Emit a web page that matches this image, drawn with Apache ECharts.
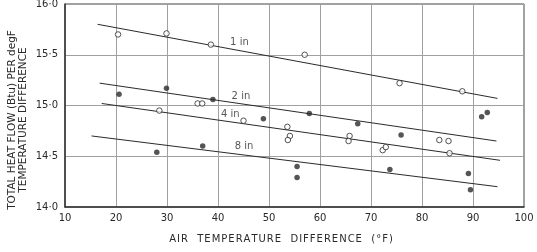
<!DOCTYPE html>
<html>
<head>
<meta charset="utf-8">
<script src="https://cdn.jsdelivr.net/npm/echarts@6/dist/echarts.min.js"></script>
<style>
  html, body { margin: 0; padding: 0; background: #fff; }
  #chart { width: 537px; height: 252px; }
</style>
</head>
<body>
<div id="chart"></div>
<script>
// values: [air temperature difference (°F), heat flow per degF]
const pts1in = [[20.4, 15.70], [29.9, 15.71], [38.6, 15.60], [57.0, 15.50], [75.6, 15.22], [87.9, 15.14]]
const pts2in = [[20.6, 15.11], [29.9, 15.17], [39.0, 15.06], [48.9, 14.87], [57.9, 14.92], [67.4, 14.82],
                [75.9, 14.71], [91.7, 14.89], [92.8, 14.93]]
const pts4in = [[28.5, 14.95], [36.0, 15.02], [36.9, 15.02], [45.0, 14.85], [53.6, 14.79], [54.1, 14.70],
                [53.7, 14.66], [65.8, 14.70], [65.6, 14.65], [72.3, 14.56], [72.9, 14.59],
                [83.4, 14.66], [85.2, 14.65], [85.4, 14.53]]
const pts8in = [[28.0, 14.54], [37.0, 14.60], [55.5, 14.40], [55.5, 14.29], [73.7, 14.37],
                [89.1, 14.33], [89.5, 14.17]]

// fitted straight lines (start, end)
const fit1in = [[16.4, 15.80], [94.8, 15.07]]
const fit2in = [[16.8, 15.22], [94.6, 14.65]]
const fit4in = [[17.2, 15.02], [95.3, 14.46]]
const fit8in = [[15.2, 14.70], [94.8, 14.20]]

const lineNames = ['1 in', '2 in', '4 in', '8 in']
const lineLabelPos = [[44.2, 15.62], [44.5, 15.09], [42.4, 14.91], [45.1, 14.60]]

const xTicks = { min: 10, max: 100, step: 10 }
const yTicks = { min: 14, max: 16, step: 0.5 }

const X_TITLE = 'AIR  TEMPERATURE  DIFFERENCE  (°F)'
const Y_TITLE = 'TOTAL HEAT FLOW (Btu) PER degF\nTEMPERATURE DIFFERENCE'

const FONT = '"DejaVu Sans", sans-serif'
const INK = '#2a2a2a'

// wide lettering of the x title, like the printed original
const spaced = s => s.split('').join('\u200A')

const chart = echarts.init(document.getElementById('chart'), null, { renderer: 'canvas' })

function fitLine(data) {
  return {
    type: 'line', data, symbol: 'none', silent: true, z: 2,
    lineStyle: { color: INK, width: 1 },
  }
}

function dots(data, filled) {
  return {
    type: 'scatter', data, symbol: 'circle', symbolSize: 5.5, z: 3,
    itemStyle: filled
      ? { color: INK }
      : { color: '#fff', borderColor: INK, borderWidth: 1 },
  }
}

chart.setOption({
  backgroundColor: '#fff',
  animation: false,
  grid: {
    left: 65, right: 13, top: 4, bottom: 45,
    outerBoundsMode: 'none', containLabel: false,
    show: true, borderColor: '#444', borderWidth: 1,
  },
  // axis titles sit a bit off-centre in the original, so they are placed by hand
  graphic: [
    {
      type: 'text', x: 281, y: 239,
      style: {
        text: spaced(X_TITLE), fill: INK, font: '10px ' + FONT,
        textAlign: 'center', textVerticalAlign: 'middle',
      },
    },
    {
      type: 'text', x: 18, y: 120, rotation: Math.PI / 2,
      style: {
        text: Y_TITLE, fill: INK, font: '10.5px ' + FONT, lineHeight: 11,
        textAlign: 'center', textVerticalAlign: 'middle',
      },
    },
  ],
  xAxis: {
    type: 'value',
    min: xTicks.min, max: xTicks.max, interval: xTicks.step,
    axisLine: { show: true, lineStyle: { color: '#333', width: 1.5 } },
    axisTick: { show: false },
    axisLabel: { fontFamily: FONT, fontSize: 10, color: INK, margin: 6 },
    splitLine: { show: true, lineStyle: { color: '#a0a0a0', width: 1 } },
  },
  yAxis: {
    type: 'value',
    min: yTicks.min, max: yTicks.max, interval: yTicks.step,
    axisLine: { show: true, lineStyle: { color: '#333', width: 1.5 } },
    axisTick: { show: false },
    axisLabel: {
      fontFamily: FONT, fontSize: 10, color: INK, margin: 7,
      formatter: v => v.toFixed(1).replace('.', '·'),
    },
    splitLine: { show: true, lineStyle: { color: '#a0a0a0', width: 1 } },
  },
  series: [
    fitLine(fit1in), fitLine(fit2in), fitLine(fit4in), fitLine(fit8in),
    dots(pts1in, false), dots(pts4in, false),
    dots(pts2in, true), dots(pts8in, true),
    {
      type: 'scatter', symbolSize: 0, silent: true, z: 4,
      data: lineLabelPos.map((p, i) => ({ value: p, name: lineNames[i] })),
      label: {
        show: true, position: 'inside', formatter: p => p.name,
        fontFamily: FONT, fontSize: 10, color: INK,
      },
    },
  ],
})
</script>
</body>
</html>
